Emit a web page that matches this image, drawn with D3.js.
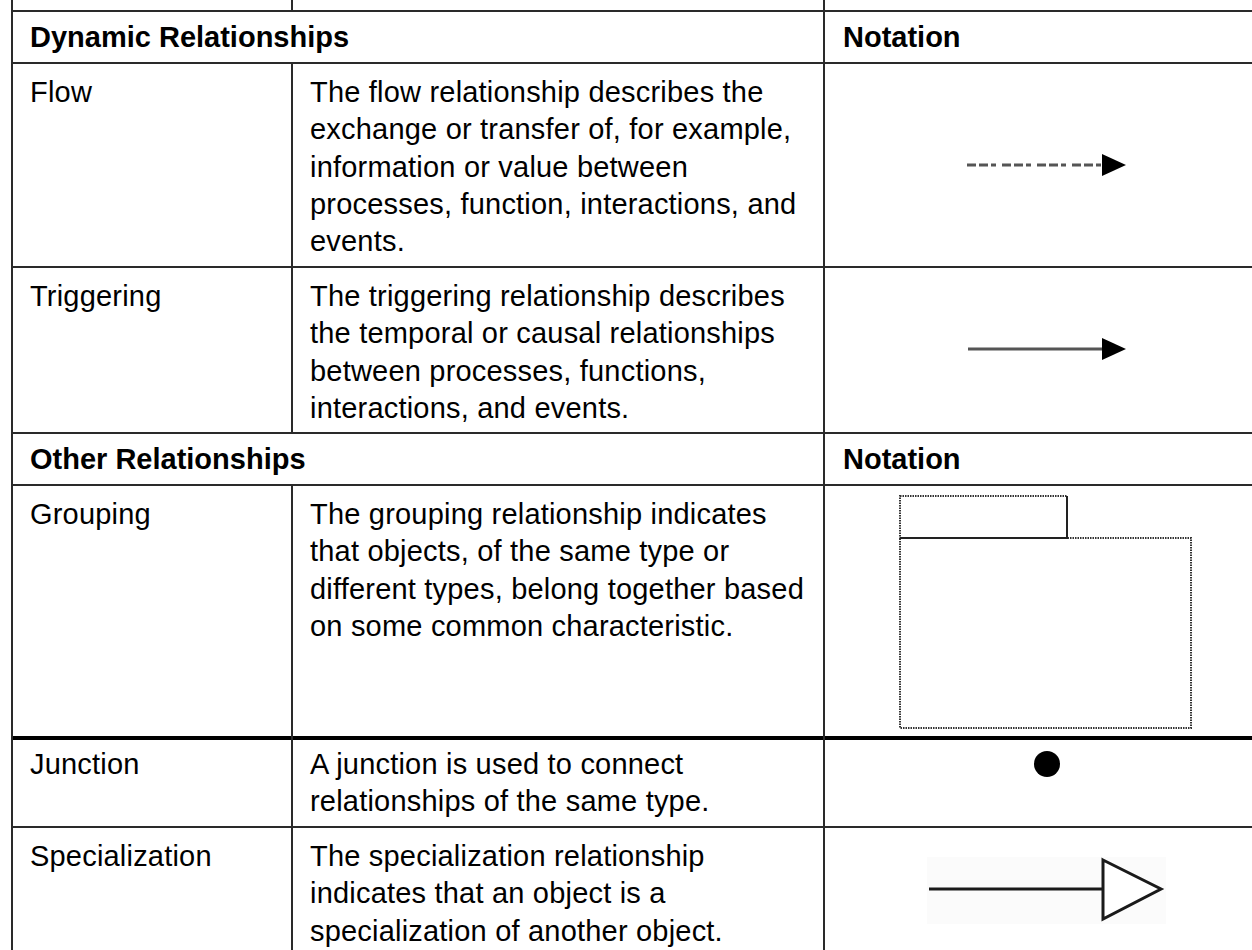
<!DOCTYPE html>
<html>
<head>
<meta charset="utf-8">
<script src="https://cdn.jsdelivr.net/npm/d3@7"></script>
<style>
  html, body { margin: 0; padding: 0; background: #fff; }
  svg { display: block; }
  text { font-family: "Liberation Sans", Arial, sans-serif; fill: #000; }
</style>
</head>
<body>
<svg id="chart" width="1252" height="950"></svg>
<script>
// ---- data ----
const sectionTitles = ["Dynamic Relationships", "Other Relationships"];
const notationHeader = "Notation";
const relationNames = ["Flow", "Triggering", "Grouping", "Junction", "Specialization"];
const relationSection = [0, 0, 1, 1, 1];
const relationDescriptions = [
  ["The flow relationship describes the", "exchange or transfer of, for example,", "information or value between", "processes, function, interactions, and", "events."],
  ["The triggering relationship describes", "the temporal or causal relationships", "between processes, functions,", "interactions, and events."],
  ["The grouping relationship indicates", "that objects, of the same type or", "different types, belong together based", "on some common characteristic."],
  ["A junction is used to connect", "relationships of the same type."],
  ["The specialization relationship", "indicates that an object is a", "specialization of another object."]
];
const relationNotation = ["flow", "triggering", "grouping", "junction", "specialization"];

// ---- layout ----
const W = 1252, H = 950;
const xLeft = 12, xCol2 = 292, xCol3 = 824;
const tableTop = 11;
const headerH = 52;
const rowH = { flow: 204, triggering: 166, grouping: 253, junction: 89, specialization: 126 };
const textOff = { flow: 39, triggering: 39, grouping: 39, junction: 36, specialization: 39 };
const fontSize = 29, lineGap = 37.3, headOff = 36;

const svg = d3.select("#chart");
svg.append("rect").attr("width", W).attr("height", H).attr("fill", "#fff");

// build rows
const rows = [];
let y = tableTop;
let lastSection = -1;
relationNames.forEach((name, i) => {
  if (relationSection[i] !== lastSection) {
    rows.push({ type: "header", title: sectionTitles[relationSection[i]], y0: y, y1: y + headerH });
    y += headerH;
    lastSection = relationSection[i];
  }
  const h = rowH[relationNotation[i]];
  rows.push({ type: "row", name, desc: relationDescriptions[i], notation: relationNotation[i], y0: y, y1: y + h });
  y += h;
});

const gLines = svg.append("g");
const gText = svg.append("g");
const gNot = svg.append("g");

const thickY = rows.find(r => r.notation === "grouping").y1;

// horizontal lines
const hYs = [tableTop].concat(rows.map(r => r.y1));
gLines.selectAll("line.h").data(hYs).join("line")
  .attr("x1", xLeft - 1).attr("x2", W)
  .attr("y1", d => d).attr("y2", d => d)
  .attr("stroke", d => d === thickY ? "#000" : "#2a2a2a")
  .attr("stroke-width", d => d === thickY ? 4 : 2);

// vertical lines
gLines.append("line").attr("x1", xLeft).attr("x2", xLeft).attr("y1", 0).attr("y2", H)
  .attr("stroke", "#2a2a2a").attr("stroke-width", 2);
gLines.append("line").attr("x1", xCol3).attr("x2", xCol3).attr("y1", 0).attr("y2", H)
  .attr("stroke", "#2a2a2a").attr("stroke-width", 2);
gLines.append("line").attr("x1", xCol2).attr("x2", xCol2).attr("y1", 0).attr("y2", tableTop)
  .attr("stroke", "#2a2a2a").attr("stroke-width", 2);
gLines.selectAll("line.v2").data(rows.filter(r => r.type === "row")).join("line")
  .attr("x1", xCol2).attr("x2", xCol2).attr("y1", d => d.y0).attr("y2", d => d.y1)
  .attr("stroke", "#2a2a2a").attr("stroke-width", 2);

// header texts
const headers = rows.filter(r => r.type === "header");
gText.selectAll("text.sec").data(headers).join("text")
  .attr("x", 30).attr("y", d => d.y0 + headOff)
  .attr("font-size", fontSize).attr("font-weight", "bold").text(d => d.title);
gText.selectAll("text.not").data(headers).join("text")
  .attr("x", 843).attr("y", d => d.y0 + headOff)
  .attr("font-size", fontSize).attr("font-weight", "bold").text(notationHeader);

// body rows
const body = rows.filter(r => r.type === "row");
gText.selectAll("text.name").data(body).join("text")
  .attr("x", 30).attr("y", d => d.y0 + textOff[d.notation])
  .attr("font-size", fontSize).attr("letter-spacing", 0.2).text(d => d.name);
const descG = gText.selectAll("g.desc").data(body).join("g");
descG.selectAll("text").data(d => d.desc.map((t, k) => ({ t, y: d.y0 + textOff[d.notation] + k * lineGap }))).join("text")
  .attr("x", 310).attr("y", d => d.y).attr("font-size", fontSize).attr("letter-spacing", 0.2).text(d => d.t);

// notations
const cx = 1047;
function arrowHead(g, xTip, yc) {
  g.append("path").attr("d", `M${xTip - 24},${yc - 11} L${xTip},${yc} L${xTip - 24},${yc + 11} Z`).attr("fill", "#000");
}
body.forEach(r => {
  const g = gNot.append("g");
  const yc = (r.y0 + r.y1) / 2;
  if (r.notation === "flow") {
    g.append("line").attr("x1", 967).attr("x2", 1104).attr("y1", yc).attr("y2", yc)
      .attr("stroke", "#555").attr("stroke-width", 3).attr("stroke-dasharray", "9,3,9,3,5,6");
    arrowHead(g, 1126, yc);
  } else if (r.notation === "triggering") {
    g.append("line").attr("x1", 968).attr("x2", 1104).attr("y1", yc - 1).attr("y2", yc - 1)
      .attr("stroke", "#555").attr("stroke-width", 3);
    arrowHead(g, 1126, yc - 1);
  } else if (r.notation === "grouping") {
    const top = r.y0 + 11, tabB = r.y0 + 53, bot = r.y1 - 10;
    g.append("rect").attr("x", 900).attr("y", top).attr("width", 167).attr("height", tabB - top)
      .attr("fill", "none").attr("stroke", "#333").attr("stroke-width", 2).attr("stroke-dasharray", "1.5,1");
    g.append("rect").attr("x", 900).attr("y", tabB).attr("width", 291).attr("height", bot - tabB)
      .attr("fill", "none").attr("stroke", "#333").attr("stroke-width", 2).attr("stroke-dasharray", "1.5,1");
    g.append("path").attr("d", `M1067,${top} L1067,${tabB} L900,${tabB}`)
      .attr("fill", "none").attr("stroke", "#222").attr("stroke-width", 2);
  } else if (r.notation === "junction") {
    g.append("circle").attr("cx", cx).attr("cy", r.y0 + 26).attr("r", 13).attr("fill", "#000");
  } else if (r.notation === "specialization") {
    const yy = yc - 1;
    g.append("rect").attr("x", 927).attr("y", yy - 32).attr("width", 239).attr("height", 67).attr("fill", "#fbfbfb");
    g.append("line").attr("x1", 929).attr("x2", 1103).attr("y1", yy).attr("y2", yy)
      .attr("stroke", "#1a1a1a").attr("stroke-width", 3);
    g.append("path").attr("d", `M1103,${yy - 29} L1161,${yy} L1103,${yy + 30} Z`)
      .attr("fill", "#fff").attr("stroke", "#1a1a1a").attr("stroke-width", 3).attr("stroke-linejoin", "miter");
  }
});
</script>
</body>
</html>
